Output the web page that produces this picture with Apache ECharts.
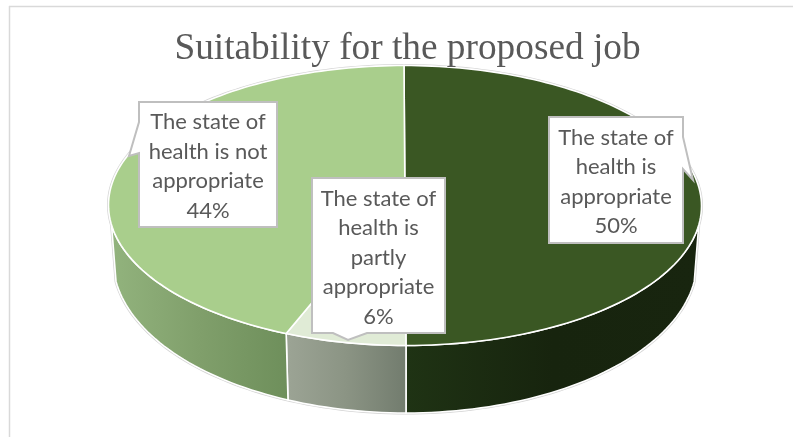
<!DOCTYPE html>
<html>
<head>
<meta charset="utf-8">
<style>html,body{margin:0;padding:0;background:#fff}#chart{width:793px;height:437px}</style>
<script src="https://cdn.jsdelivr.net/npm/echarts@6/dist/echarts.min.js"></script>
</head>
<body>
<div id="chart"></div>
<script>
// Survey result: how the state of health suits the proposed job.
const chartTitle = 'Suitability for the proposed job';
const categories = [
  'The state of\nhealth is\nappropriate',
  'The state of\nhealth is\npartly\nappropriate',
  'The state of\nhealth is not\nappropriate'
];
const shareValues = [50, 6, 44];

// Slice styling, in the same order as the values. Wall colours run left to right.
const topColors = ['#3A5723', '#E0EBD6', '#A9CE8C'];
const wallStops = [
  ['#1F3314', '#17240E', '#18250F'],
  ['#9CA495', '#8B9484', '#727C6E'],
  ['#92B37D', '#809F6B', '#6E8F5B']
];

// Projected disc: the far and near faces are ellipses, and the tilt moves the
// disc centre up the picture, which widens slices near the viewer.
const disc = {cx: 405, cy: 205.5, rx: 296.5, ry: 140, shear: 1, tilt: -0.1};
const base = {cx: 405, cy: 260, rx: 292, ry: 153};
const horizon = 0.14;

// Callout boxes: rectangle plus the pointer's three points on one side.
const callouts = [
  {x: 549, y: 117, w: 134, h: 126, side: 'right', pointer: [[683, 137], [693, 180], [683, 169]]},
  {x: 312, y: 178, w: 133, h: 155, side: 'bottom', pointer: [[367, 333], [348, 340], [333, 333]]},
  {x: 139, y: 102, w: 138, h: 125, side: 'left', pointer: [[139, 153], [129, 156], [139, 122]]}
];

const total = shareValues.reduce((a, b) => a + b, 0);
function sliceRange(index) {
  let start = 0;
  for (let i = 0; i < index; i++) start += shareValues[i];
  return [start / total, (start + shareValues[index]) / total];
}
// Fraction of the turn (clockwise from the top) to position on the unit circle.
function project(f) {
  const u = Math.sin(2 * Math.PI * f), v = -Math.cos(2 * Math.PI * f), k = disc.tilt;
  const d = 1 + k * v;
  return {u: u * Math.sqrt(1 - k * k) / d, v: (v + k) / d};
}
function topPoint(p) {
  return [disc.cx + disc.rx * p.u + disc.shear * p.v, disc.cy + disc.ry * p.v];
}
function basePoint(p) {
  return [base.cx + base.rx * p.u + disc.shear * p.v, base.cy + base.ry * p.v];
}
function sample(f1, f2, fn) {
  const n = Math.max(2, Math.ceil((f2 - f1) * 240));
  const pts = [];
  for (let i = 0; i <= n; i++) pts.push(fn(project(f1 + (f2 - f1) * i / n)));
  return pts;
}
// First fraction on the right at which the side wall becomes visible.
const wallStart = (function () {
  const v = (horizon - disc.tilt) / (1 - disc.tilt * horizon);
  return Math.acos(-v) / (2 * Math.PI);
})();

function renderOutline() {
  const f1 = wallStart, f2 = 1 - wallStart;
  const back = sample(f2, 1 + f1, topPoint);
  const front = sample(f1, f2, basePoint);
  return {
    type: 'polygon',
    shape: {points: back.concat(front)},
    style: {fill: 'none', stroke: '#D4D4D4', lineWidth: 3}
  };
}
function renderWall(params) {
  const i = params.dataIndex;
  const r = sliceRange(i);
  const f1 = Math.max(r[0], wallStart), f2 = Math.min(r[1], 1 - wallStart);
  if (f2 <= f1) return null;
  const upper = sample(f1, f2, topPoint);
  const lower = sample(f1, f2, basePoint);
  const xs = upper.concat(lower).map(p => p[0]);
  const left = Math.min.apply(null, xs), right = Math.max.apply(null, xs);
  const stops = wallStops[i];
  return {
    type: 'polygon',
    shape: {points: upper.concat(lower.reverse())},
    style: {
      fill: new echarts.graphic.LinearGradient(left, 0, right, 0, [
        {offset: 0, color: stops[0]},
        {offset: 0.5, color: stops[1]},
        {offset: 1, color: stops[2]}
      ], true),
      stroke: '#fff',
      lineWidth: 1.6
    }
  };
}
function renderTop(params) {
  const i = params.dataIndex;
  const r = sliceRange(i);
  const apex = topPoint({u: 0, v: disc.tilt});
  return {
    type: 'polygon',
    shape: {points: [apex].concat(sample(r[0], r[1], topPoint))},
    style: {fill: topColors[i], stroke: '#fff', lineWidth: 1.6}
  };
}
function renderCallout(params, api) {
  const i = params.dataIndex, c = callouts[i];
  const tl = [c.x, c.y], tr = [c.x + c.w, c.y], br = [c.x + c.w, c.y + c.h], bl = [c.x, c.y + c.h];
  const outline = c.side === 'right' ? [tl, tr].concat(c.pointer, [br, bl])
    : c.side === 'bottom' ? [tl, tr, br].concat(c.pointer, [bl])
    : [tl, tr, br, bl].concat(c.pointer);
  return {
    type: 'group',
    children: [
      {type: 'polygon', shape: {points: outline}, style: {fill: '#fff', stroke: '#BFBFBF', lineWidth: 2}},
      {
        type: 'text',
        z2: 5,
        style: {
          x: c.x + c.w / 2,
          y: c.y + c.h / 2 + 2,
          text: categories[i] + '\n' + api.value(0) + '%',
          align: 'center',
          verticalAlign: 'middle',
          font: '22px Lato',
          lineHeight: 29.5,
          fill: '#595959'
        }
      }
    ]
  };
}

const chart = echarts.init(document.getElementById('chart'), null, {renderer: 'canvas'});
chart.setOption({
  animation: false,
  backgroundColor: '#fff',
  title: {
    text: chartTitle,
    left: 402.5,
    top: 26,
    textAlign: 'center',
    z: 20,
    textStyle: {fontFamily: 'Liberation Serif', fontWeight: 'normal', fontSize: 37.3, color: '#595959'}
  },
  graphic: [
    {type: 'line', silent: true, shape: {x1: 9, y1: 6.5, x2: 793, y2: 6.5}, style: {stroke: '#D9D9D9', lineWidth: 1.5}},
    {type: 'line', silent: true, shape: {x1: 9.5, y1: 6, x2: 9.5, y2: 437}, style: {stroke: '#D9D9D9', lineWidth: 1.5}}
  ],
  series: [
    {type: 'custom', coordinateSystem: 'none', silent: true, z: 1, data: [0], renderItem: renderOutline},
    {type: 'custom', coordinateSystem: 'none', silent: true, z: 2, data: shareValues, renderItem: renderWall},
    {type: 'custom', coordinateSystem: 'none', silent: true, z: 3, data: shareValues, renderItem: renderTop},
    {type: 'custom', coordinateSystem: 'none', silent: true, z: 4, data: shareValues, renderItem: renderCallout}
  ]
});
</script>
</body>
</html>
